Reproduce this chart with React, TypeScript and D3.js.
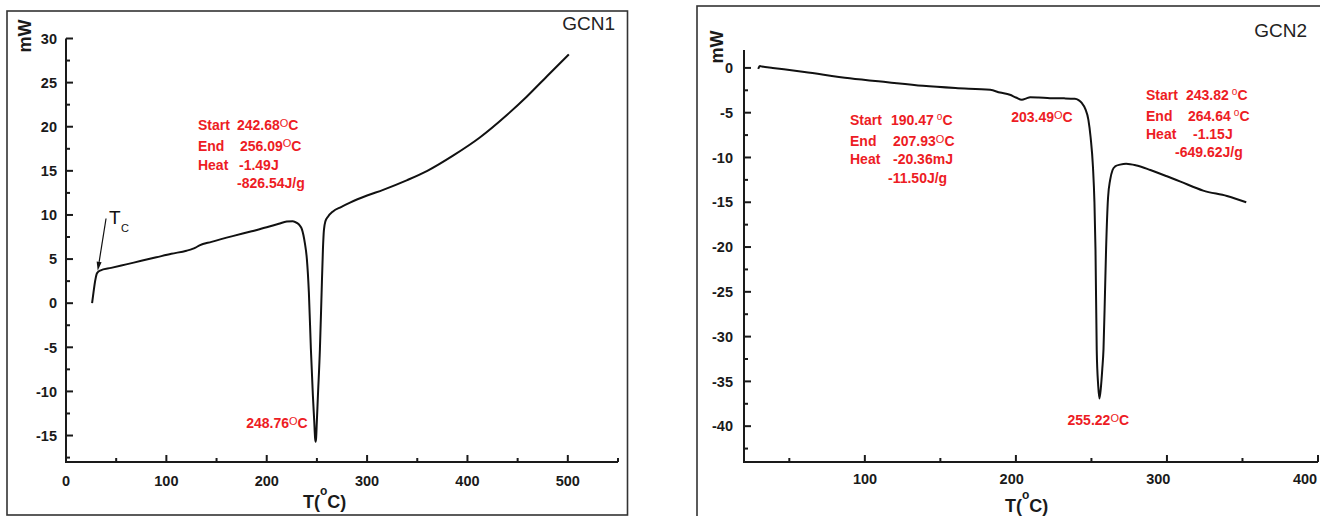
import React from 'react';
import * as d3 from 'd3';

// ---------- data ----------
const gcn1T = [26, 27.5, 29, 30.5, 32, 34, 45, 60, 75, 90, 105, 120, 126, 129, 133, 145, 166, 185, 200, 212, 220, 226, 230, 233, 235, 238, 240, 242, 244, 246, 247.3, 248.2, 248.7, 249.2, 249.9, 251, 253, 254.5, 256, 257, 258.5, 261, 266, 274, 283, 300, 316, 340, 360, 386, 412, 439, 459, 479, 501];
const gcn1MW = [0, 1.3, 2.5, 3.3, 3.55, 3.7, 4.0, 4.4, 4.8, 5.2, 5.6, 5.95, 6.15, 6.3, 6.55, 6.95, 7.6, 8.15, 8.6, 9.0, 9.25, 9.3, 9.1, 8.8, 8.4, 6.8, 5.0, 1.2, -5.2, -10.5, -13.3, -15.3, -15.7, -15.3, -13.5, -10.5, -5.2, 0.5, 6.1, 8.3, 9.3, 9.8, 10.4, 10.9, 11.4, 12.2, 12.85, 13.95, 15.0, 16.75, 18.75, 21.3, 23.4, 25.7, 28.2];

const gcn2T = [29.4, 30.5, 32, 39, 60, 90, 115, 138.5, 160, 183, 189.5, 196, 200, 204, 207, 209.4, 215, 222.6, 232, 239, 241.5, 243.6, 246, 248, 249.5, 251, 252, 252.7, 253.5, 254.5, 255.3, 256.2, 257.2, 258, 259, 259.7, 261, 262.4, 264, 265.7, 269, 273, 280, 289, 300, 309, 324, 339.7, 352.5];
const gcn2MW = [-0.1, 0.2, 0.15, 0.0, -0.45, -1.15, -1.6, -2.0, -2.25, -2.45, -2.75, -3.0, -3.3, -3.56, -3.4, -3.27, -3.3, -3.38, -3.4, -3.45, -3.6, -3.9, -4.6, -5.8, -7.8, -11, -15, -20.3, -31.4, -35.5, -36.9, -35.8, -33.6, -31.4, -25, -20.3, -14.5, -12.5, -11.4, -11, -10.8, -10.7, -10.9, -11.4, -12.1, -12.7, -13.7, -14.3, -15.0];

const gcn1XDomain = [0, 550];
const gcn1YDomain = [-18, 30];
const gcn1XTicks = [0, 100, 200, 300, 400, 500];
const gcn1XMinor = [50, 150, 250, 350, 450, 550];
const gcn1YTicks = [-15, -10, -5, 0, 5, 10, 15, 20, 25, 30];
const gcn1YMinor = [-17.5, -12.5, -7.5, -2.5, 2.5, 7.5, 12.5, 17.5, 22.5, 27.5];

const gcn2XDomain = [20, 400];
const gcn2YDomain = [-44, 2];
const gcn2XTicks = [100, 200, 300, 400];
const gcn2XMinor = [50, 150, 250, 350];
const gcn2YTicks = [0, -5, -10, -15, -20, -25, -30, -35, -40];
const gcn2YMinor = [-2.5, -7.5, -12.5, -17.5, -22.5, -27.5, -32.5, -37.5, -42.5];

const gcn1Info = ['242.68', '256.09', '-1.49J', '-826.54J/g'];
const gcn1Peak = 248.76;
const gcn2InfoA = ['190.47', '207.93', '-20.36mJ', '-11.50J/g'];
const gcn2PeakA = 203.49;
const gcn2InfoB = ['243.82', '264.64', '-1.15J', '-649.62J/g'];
const gcn2PeakB = 255.22;

// ---------- styles ----------
const FONT = "'Liberation Sans', Arial, Helvetica, sans-serif";
const RED = '#ed1c24';
const INK = '#1a1a1a';

function Deg({ x, y, value, small, anchor, size = 14 }: any) {
  return (
    <text x={x} y={y} fill={RED} fontFamily={FONT} fontWeight="bold" fontSize={size} textAnchor={anchor || 'start'}>
      {value}
      {small ? (
        <>
          <tspan fontSize={10} fontWeight="normal" dx={3} dy={-5}>o</tspan>
          <tspan dy={5}>C</tspan>
        </>
      ) : (
        <>
          <tspan fontSize={11} fontWeight="normal" dy={-3.5}>O</tspan>
          <tspan dy={3.5}>C</tspan>
        </>
      )}
    </text>
  );
}

function Red({ x, y, children, anchor }: any) {
  return (
    <text x={x} y={y} fill={RED} fontFamily={FONT} fontWeight="bold" fontSize={14} textAnchor={anchor || 'start'}>
      {children}
    </text>
  );
}

function TAxisTitle({ x, y }: any) {
  return (
    <text x={x} y={y} fill={INK} fontFamily={FONT} fontWeight="bold" fontSize={18}>
      T(
      <tspan fontSize={12} dy={-13}>o</tspan>
      <tspan dy={13}>C)</tspan>
    </text>
  );
}

function Axes({ x, y, xTicks, xMinor, yTicks, yMinor, yLabelGap, xLabelY, xLabelPos }: any) {
  const [x0, x1] = x.range();
  const [y0, y1] = y.range();
  return (
    <g stroke={INK} fill="none">
      <line x1={x0} x2={x1} y1={y0} y2={y0} strokeWidth={2} />
      <line x1={x0} x2={x0} y1={y0 + 1} y2={y1} strokeWidth={2} />
      {xTicks.map((t: number) => (
        <line key={'xt' + t} x1={x(t)} x2={x(t)} y1={y0} y2={y0 - 7} strokeWidth={2} />
      ))}
      {xMinor.map((t: number) => (
        <line key={'xm' + t} x1={x(t)} x2={x(t)} y1={y0} y2={y0 - 4} strokeWidth={2} />
      ))}
      {yTicks.map((t: number) => (
        <line key={'yt' + t} x1={x0} x2={x0 + 7} y1={y(t)} y2={y(t)} strokeWidth={2} />
      ))}
      {yMinor.map((t: number) => (
        <line key={'ym' + t} x1={x0} x2={x0 + 4} y1={y(t)} y2={y(t)} strokeWidth={2} />
      ))}
      <g fill={INK} stroke="none" fontFamily={FONT} fontWeight="bold" fontSize={14.5}>
        {xTicks.map((t: number) => (
          <text key={'xl' + t} x={xLabelPos(t)} y={xLabelY} textAnchor="middle">{t}</text>
        ))}
        {yTicks.map((t: number) => (
          <text key={'yl' + t} x={x0 - yLabelGap} y={y(t)} dy="0.36em" textAnchor="end">{t}</text>
        ))}
      </g>
    </g>
  );
}

export default function App() {
  // Left panel scales
  const x1 = d3.scaleLinear().domain(gcn1XDomain).range([66, 618]);
  const y1 = d3.scaleLinear().domain(gcn1YDomain).range([462, 38.5]);
  // Right panel scales
  const x2 = d3.scaleLinear().domain(gcn2XDomain).range([744, 1318]);
  const y2 = d3.scaleLinear().domain(gcn2YDomain).range([462, 50]);
  const x2Label = d3.scaleLinear().domain([100, 400]).range([865, 1305]);

  const line1 = d3.line<number>()
    .x((_, i) => x1(gcn1T[i]))
    .y((d) => y1(d))
    .curve(d3.curveMonotoneX);
  const line2 = d3.line<number>()
    .x((_, i) => x2(gcn2T[i]))
    .y((d) => y2(d))
    .curve(d3.curveMonotoneX);

  // Tc arrow
  const tip = [x1(31.6), y1(3.68)];
  const tail = [x1(39.9), y1(9.6)];
  const dx = tip[0] - tail[0];
  const dy = tip[1] - tail[1];
  const len = Math.hypot(dx, dy);
  const ux = dx / len, uy = dy / len;
  const bx = tip[0] - ux * 9, by = tip[1] - uy * 9;
  const arrow = `M${tip[0]},${tip[1]} L${bx - uy * 2.5},${by + ux * 2.5} L${bx + uy * 2.5},${by - ux * 2.5} Z`;

  const a1x = x1(131.5), a1y = 130;
  const bAx = 850, bAy = 125;
  const bBx = 1146, bBy = 100;

  return (
    <svg width={1320} height={516} style={{ position: 'absolute', left: 0, top: 0, background: '#fff' }}>
      <rect x={0} y={0} width={1320} height={516} fill="#fff" />
      {/* frames */}
      <rect x={7} y={11} width={620.5} height={504} fill="none" stroke="#333" strokeWidth={1.6} />
      <rect x={697} y={6} width={700} height={600} fill="none" stroke="#333" strokeWidth={1.6} />

      {/* ===== GCN1 ===== */}
      <Axes x={x1} y={y1} xTicks={gcn1XTicks} xMinor={gcn1XMinor} yTicks={gcn1YTicks} yMinor={gcn1YMinor}
        yLabelGap={9} xLabelY={485.5} xLabelPos={(t: number) => x1(t)} />
      <path d={line1(gcn1MW) || ''} fill="none" stroke="#111" strokeWidth={2} strokeLinejoin="round" />
      <text transform="rotate(-90 25 36)" fill={INK} fontFamily={FONT} fontWeight="bold" fontSize={18} textAnchor="middle">
        <tspan x={25} y={42}>mW</tspan>
      </text>
      <TAxisTitle x={303} y={508} />
      <text x={615} y={30} textAnchor="end" fill="#222" fontFamily={FONT} fontSize={19}>GCN1</text>

      <Red x={a1x} y={a1y}>Start</Red>
      <Deg x={a1x + 39} y={a1y} value={gcn1Info[0]} />
      <Red x={a1x} y={a1y + 20.7}>End</Red>
      <Deg x={a1x + 42} y={a1y + 20.7} value={gcn1Info[1]} />
      <Red x={a1x} y={a1y + 40}>Heat</Red>
      <Red x={a1x + 41} y={a1y + 40}>{gcn1Info[2]}</Red>
      <Red x={a1x + 39} y={a1y + 58}>{gcn1Info[3]}</Red>
      <Deg x={x1(gcn1Peak) - 8} y={428} value={gcn1Peak.toFixed(2)} anchor="end" />

      {/* Tc */}
      <line x1={tail[0]} y1={tail[1]} x2={bx} y2={by} stroke="#111" strokeWidth={1.2} />
      <path d={arrow} fill="#111" />
      <text x={109} y={224} fill="#111" fontFamily={FONT} fontSize={19}>T</text>
      <text x={121} y={232} fill="#111" fontFamily={FONT} fontSize={11}>C</text>

      {/* ===== GCN2 ===== */}
      <Axes x={x2} y={y2} xTicks={gcn2XTicks} xMinor={gcn2XMinor} yTicks={gcn2YTicks} yMinor={gcn2YMinor}
        yLabelGap={11} xLabelY={484} xLabelPos={(t: number) => x2Label(t)} />
      <path d={line2(gcn2MW) || ''} fill="none" stroke="#111" strokeWidth={2} strokeLinejoin="round" />
      <text transform="rotate(-90 717 47)" fill={INK} fontFamily={FONT} fontWeight="bold" fontSize={18} textAnchor="middle">
        <tspan x={717} y={53}>mW</tspan>
      </text>
      <TAxisTitle x={1005} y={512} />
      <text x={1307} y={37} textAnchor="end" fill="#222" fontFamily={FONT} fontSize={19}>GCN2</text>

      <Red x={bAx} y={bAy}>Start</Red>
      <Deg x={bAx + 41} y={bAy} value={gcn2InfoA[0]} small />
      <Red x={bAx} y={bAy + 21}>End</Red>
      <Deg x={bAx + 43} y={bAy + 21} value={gcn2InfoA[1]} />
      <Red x={bAx} y={bAy + 39}>Heat</Red>
      <Red x={bAx + 43} y={bAy + 39}>{gcn2InfoA[2]}</Red>
      <Red x={bAx + 38} y={bAy + 57.7}>{gcn2InfoA[3]}</Red>
      <Deg x={x2(gcn2PeakA) - 10} y={122.3} value={gcn2PeakA.toFixed(2)} />

      <Red x={bBx} y={bBy}>Start</Red>
      <Deg x={bBx + 40} y={bBy} value={gcn2InfoB[0]} small />
      <Red x={bBx} y={bBy + 20.7}>End</Red>
      <Deg x={bBx + 42} y={bBy + 20.7} value={gcn2InfoB[1]} small />
      <Red x={bBx} y={bBy + 39}>Heat</Red>
      <Red x={bBx + 47} y={bBy + 39}>{gcn2InfoB[2]}</Red>
      <Red x={bBx + 29} y={bBy + 57.3}>{gcn2InfoB[3]}</Red>
      <Deg x={x2(gcn2PeakB) - 1} y={425} value={gcn2PeakB.toFixed(2)} anchor="middle" />
    </svg>
  );
}
